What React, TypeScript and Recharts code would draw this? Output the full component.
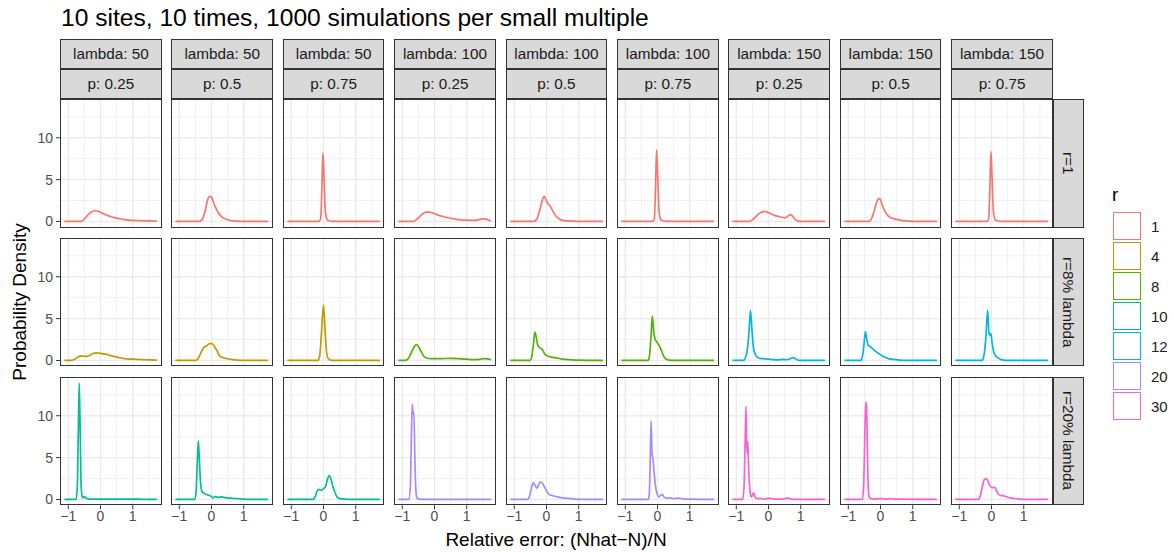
import React from 'react';
import { LineChart, Line, XAxis, YAxis, CartesianGrid } from 'recharts';

// ---------- labels ----------
const titleText = '10 sites, 10 times, 1000 simulations per small multiple';
const lambdaLabels = ['50', '50', '50', '100', '100', '100', '150', '150', '150'];
const pLabels = ['0.25', '0.5', '0.75', '0.25', '0.5', '0.75', '0.25', '0.5', '0.75'];
const rowLabels = ['r=1', 'r=8% lambda', 'r=20% lambda'];
const rLevels = ['1', '4', '8', '10', '12', '20', '30'];
const rColors = ['#F8766D', '#C49A00', '#53B400', '#00C094', '#00B6EB', '#A58AFF', '#FB61D7'];
const panelR = [
  ['1', '1', '1', '1', '1', '1', '1', '1', '1'],
  ['4', '4', '4', '8', '8', '8', '12', '12', '12'],
  ['10', '10', '10', '20', '20', '20', '30', '30', '30'],
];
const xTicks = [-1, 0, 1];
const xMinor = [-0.5, 0.5, 1.5];
const yTicks = [0, 5, 10];
const yMinor = [2.5, 7.5, 12.5];

// ---------- density curves [x, density] ----------
// row r=1
const r1_l50_p25 = [[-1.12,0],[-0.6,0.02],[-0.5,0.3],[-0.4,0.75],[-0.3,1.1],[-0.2,1.28],[-0.1,1.25],[0,1.1],[0.1,0.9],[0.2,0.75],[0.3,0.6],[0.4,0.48],[0.5,0.4],[0.6,0.32],[0.7,0.25],[0.8,0.2],[0.9,0.15],[1.0,0.12],[1.2,0.1],[1.4,0.08],[1.6,0.06],[1.75,0.04]];
const r1_l50_p50 = [[-1.12,0],[-0.4,0],[-0.3,0.2],[-0.2,1.2],[-0.12,2.6],[-0.06,3.0],[0,2.9],[0.05,2.4],[0.1,1.9],[0.15,1.5],[0.2,1.1],[0.3,0.6],[0.4,0.35],[0.5,0.2],[0.6,0.1],[0.8,0.04],[1.0,0.02],[1.4,0],[1.75,0]];
const r1_l50_p75 = [[-1.12,0],[-0.15,0],[-0.09,0.3],[-0.05,4],[-0.02,8.2],[0.01,6],[0.04,2.5],[0.07,0.8],[0.12,0.2],[0.2,0.05],[0.3,0],[1.75,0]];
const r1_l100_p25 = [[-1.12,0],[-0.65,0.02],[-0.55,0.25],[-0.45,0.65],[-0.35,0.95],[-0.25,1.12],[-0.15,1.12],[-0.05,1.0],[0.05,0.85],[0.2,0.65],[0.35,0.5],[0.5,0.38],[0.65,0.28],[0.8,0.2],[1.0,0.15],[1.2,0.14],[1.35,0.2],[1.5,0.32],[1.6,0.28],[1.7,0.12],[1.75,0.05]];
const r1_l100_p50 = [[-1.12,0],[-0.4,0],[-0.3,0.3],[-0.2,1.5],[-0.12,2.7],[-0.07,3.0],[-0.02,2.6],[0.05,2.1],[0.12,1.8],[0.2,1.2],[0.3,0.6],[0.4,0.3],[0.55,0.1],[0.8,0.03],[1.2,0],[1.75,0]];
const r1_l100_p75 = [[-1.12,0],[-0.16,0],[-0.1,0.3],[-0.06,4.2],[-0.03,8.55],[0,6.2],[0.03,2.6],[0.06,0.8],[0.11,0.2],[0.2,0.05],[0.3,0],[1.75,0]];
const r1_l150_p25 = [[-1.12,0],[-0.6,0],[-0.5,0.2],[-0.4,0.55],[-0.3,0.9],[-0.2,1.12],[-0.12,1.2],[0,1.05],[0.1,0.85],[0.2,0.7],[0.3,0.6],[0.4,0.5],[0.5,0.45],[0.58,0.55],[0.66,0.82],[0.72,0.75],[0.8,0.35],[0.88,0.08],[0.95,0.01],[1.75,0]];
const r1_l150_p50 = [[-1.12,0],[-0.35,0],[-0.28,0.3],[-0.2,1.2],[-0.12,2.3],[-0.05,2.72],[0,2.6],[0.05,2.0],[0.1,1.5],[0.17,1.0],[0.25,0.6],[0.35,0.4],[0.5,0.25],[0.7,0.1],[0.9,0.03],[1.2,0],[1.75,0]];
const r1_l150_p75 = [[-1.12,0],[-0.15,0],[-0.09,0.3],[-0.05,4.1],[-0.02,8.36],[0.01,6],[0.04,2.5],[0.07,0.8],[0.12,0.2],[0.2,0.05],[0.3,0],[1.75,0]];
// row r=8% lambda
const r2_l50_p25 = [[-1.12,0],[-0.9,0.02],[-0.8,0.15],[-0.7,0.4],[-0.62,0.55],[-0.52,0.5],[-0.43,0.48],[-0.35,0.6],[-0.25,0.8],[-0.12,0.9],[0,0.85],[0.15,0.75],[0.3,0.6],[0.45,0.45],[0.6,0.32],[0.75,0.22],[0.9,0.17],[1.1,0.14],[1.3,0.1],[1.5,0.06],[1.75,0.03]];
const r2_l50_p50 = [[-1.12,0],[-0.5,0],[-0.42,0.2],[-0.33,0.9],[-0.25,1.5],[-0.15,1.75],[-0.05,2.0],[0.02,2.0],[0.1,1.6],[0.18,1.1],[0.25,0.55],[0.35,0.35],[0.5,0.2],[0.65,0.1],[0.8,0.04],[1.0,0.01],[1.75,0]];
const r2_l50_p75 = [[-1.12,0],[-0.18,0],[-0.12,0.5],[-0.06,3.5],[0,6.6],[0.05,3.5],[0.1,0.8],[0.15,0.2],[0.22,0.05],[0.35,0],[1.75,0]];
const r2_l100_p25 = [[-1.12,0],[-0.9,0.02],[-0.8,0.3],[-0.7,1.1],[-0.62,1.7],[-0.56,1.9],[-0.5,1.7],[-0.42,1.1],[-0.35,0.6],[-0.25,0.3],[-0.1,0.22],[0.2,0.22],[0.5,0.25],[0.8,0.2],[1.0,0.15],[1.2,0.1],[1.4,0.12],[1.55,0.22],[1.65,0.2],[1.75,0.08]];
const r2_l100_p50 = [[-1.12,0],[-0.52,0],[-0.46,0.4],[-0.41,1.8],[-0.36,3.4],[-0.32,2.8],[-0.27,1.8],[-0.2,1.5],[-0.13,1.3],[-0.06,0.8],[0.02,0.55],[0.15,0.4],[0.3,0.3],[0.45,0.2],[0.6,0.12],[0.8,0.07],[1.0,0.04],[1.3,0.02],[1.75,0.01]];
const r2_l100_p75 = [[-1.12,0],[-0.3,0],[-0.25,0.5],[-0.2,3.0],[-0.16,5.3],[-0.12,3.5],[-0.08,2.6],[-0.02,2.2],[0.05,1.8],[0.12,1.2],[0.18,0.6],[0.25,0.2],[0.35,0.05],[0.5,0],[1.75,0]];
const r2_l150_p25 = [[-1.12,0],[-0.78,0],[-0.72,0.3],[-0.65,1.5],[-0.6,3.8],[-0.56,6.0],[-0.52,4.0],[-0.47,1.6],[-0.42,0.8],[-0.35,0.4],[-0.25,0.25],[-0.1,0.2],[0,0.15],[0.15,0.1],[0.3,0.08],[0.45,0.12],[0.55,0.1],[0.65,0.15],[0.75,0.35],[0.82,0.25],[0.9,0.05],[1.0,0.01],[1.75,0]];
const r2_l150_p50 = [[-1.12,0],[-0.62,0],[-0.56,0.5],[-0.51,2.0],[-0.47,3.45],[-0.43,2.6],[-0.38,1.8],[-0.3,1.6],[-0.22,1.3],[-0.12,1.0],[-0.04,0.8],[0.05,0.55],[0.15,0.35],[0.25,0.22],[0.4,0.12],[0.6,0.05],[0.8,0.02],[1.75,0]];
const r2_l150_p75 = [[-1.12,0],[-0.3,0],[-0.24,0.5],[-0.18,2.5],[-0.12,6.0],[-0.08,3.3],[-0.05,3.0],[-0.02,3.2],[0.02,2.0],[0.07,1.0],[0.12,0.6],[0.2,0.3],[0.3,0.1],[0.45,0.02],[1.75,0]];
// row r=20% lambda
const r3_l50_p25 = [[-1.12,0],[-0.76,0],[-0.72,1.5],[-0.69,8],[-0.66,13.9],[-0.63,8],[-0.6,1.5],[-0.56,0.2],[-0.5,0.35],[-0.45,0.15],[-0.3,0.05],[0,0.05],[0.5,0.03],[1.0,0.04],[1.3,0.02],[1.75,0.01]];
const r3_l50_p50 = [[-1.12,0],[-0.52,0],[-0.48,0.8],[-0.44,4.5],[-0.41,7.0],[-0.38,5.0],[-0.34,2.0],[-0.3,1.0],[-0.22,0.7],[-0.12,0.55],[-0.02,0.4],[0.05,0.2],[0.12,0.35],[0.2,0.25],[0.3,0.3],[0.45,0.2],[0.6,0.15],[0.8,0.1],[1.0,0.05],[1.2,0.02],[1.75,0]];
const r3_l50_p75 = [[-1.12,0],[-0.32,0],[-0.26,0.3],[-0.2,1.0],[-0.14,1.2],[-0.08,1.1],[0,1.3],[0.06,1.5],[0.12,2.4],[0.18,2.85],[0.24,2.3],[0.3,1.4],[0.36,0.8],[0.42,0.3],[0.5,0.1],[0.65,0.03],[0.9,0],[1.75,0]];
const r3_l100_p25 = [[-1.12,0],[-0.8,0],[-0.75,1.5],[-0.72,7],[-0.69,11.4],[-0.66,10.2],[-0.64,10.4],[-0.61,5],[-0.58,1.2],[-0.55,0.2],[-0.5,0.05],[0,0.02],[1.75,0]];
const r3_l100_p50 = [[-1.12,0],[-0.58,0],[-0.52,0.5],[-0.46,1.5],[-0.41,2.0],[-0.36,1.7],[-0.3,1.35],[-0.24,1.8],[-0.18,2.1],[-0.12,1.9],[-0.05,1.4],[0.02,0.9],[0.08,0.6],[0.2,0.45],[0.35,0.3],[0.5,0.2],[0.7,0.12],[0.9,0.05],[1.1,0.02],[1.75,0]];
const r3_l100_p75 = [[-1.12,0],[-0.28,0],[-0.25,1.0],[-0.22,6.0],[-0.2,9.4],[-0.17,5.5],[-0.14,4.8],[-0.11,3.5],[-0.07,1.8],[-0.02,0.8],[0.04,0.3],[0.1,0.5],[0.15,0.6],[0.2,0.3],[0.3,0.15],[0.4,0.2],[0.5,0.1],[0.65,0.15],[0.8,0.08],[1.0,0.04],[1.75,0]];
const r3_l150_p25 = [[-1.12,0],[-0.8,0],[-0.76,1.5],[-0.72,8],[-0.7,11.1],[-0.68,7],[-0.66,5.5],[-0.64,6.9],[-0.62,4],[-0.58,1.2],[-0.54,0.3],[-0.5,0.5],[-0.46,0.8],[-0.42,0.3],[-0.35,0.1],[-0.25,0.12],[-0.1,0.05],[0,0.15],[0.2,0.05],[0.4,0.05],[0.6,0.15],[0.7,0.05],[1.0,0.02],[1.75,0]];
const r3_l150_p50 = [[-1.12,0],[-0.56,0],[-0.52,2],[-0.48,9],[-0.46,11.6],[-0.44,11.4],[-0.42,9],[-0.39,2.5],[-0.36,0.4],[-0.3,0.1],[-0.2,0.05],[0,0.1],[0.2,0.05],[0.3,0.1],[0.5,0.03],[1.75,0]];
const r3_l150_p75 = [[-1.12,0],[-0.42,0],[-0.35,0.4],[-0.28,1.6],[-0.22,2.4],[-0.16,2.45],[-0.12,2.3],[-0.07,1.8],[-0.02,1.5],[0.04,1.4],[0.1,1.45],[0.15,1.1],[0.2,0.7],[0.26,0.5],[0.35,0.45],[0.45,0.35],[0.55,0.2],[0.65,0.15],[0.8,0.06],[1.0,0.02],[1.75,0]];

const curves = [
  [r1_l50_p25, r1_l50_p50, r1_l50_p75, r1_l100_p25, r1_l100_p50, r1_l100_p75, r1_l150_p25, r1_l150_p50, r1_l150_p75],
  [r2_l50_p25, r2_l50_p50, r2_l50_p75, r2_l100_p25, r2_l100_p50, r2_l100_p75, r2_l150_p25, r2_l150_p50, r2_l150_p75],
  [r3_l50_p25, r3_l50_p50, r3_l50_p75, r3_l100_p25, r3_l100_p50, r3_l100_p75, r3_l150_p25, r3_l150_p50, r3_l150_p75],
];

// ---------- layout ----------
const X_DOMAIN: [number, number] = [-1.257, 1.898];
const Y_DOMAIN: [number, number] = [-0.6965, 14.6265];
const COL_LEFT0 = 60;
const COL_STEP = 111.4;
const PW = 101.7;
const ROW_TOP0 = 99.3;
const ROW_STEP = 138.7;
const PH = 128.3;
const YW = 40;
const XH = 30;
const PAD = 10;
const FONT = '"Liberation Sans", Arial, Helvetica, sans-serif';
const STRIP_BG = '#D9D9D9';
const BORDER = '#333333';

const fmtX = (v: number) => (v < 0 ? '\u2212' + Math.abs(v) : String(v));

function Panel({ row, col }: { row: number; col: number }) {
  const showX = row === 2;
  const showY = col === 0;
  const left = COL_LEFT0 + col * COL_STEP;
  const top = ROW_TOP0 + row * ROW_STEP;
  const data = curves[row][col].map(([x, y]) => ({ x, y }));
  const color = rColors[rLevels.indexOf(panelR[row][col])];
  return (
    <>
      <div style={{ position: 'absolute', left: left - (showY ? YW : 0) - PAD, top: top - PAD }}>
        <LineChart
          width={PW + (showY ? YW : 0) + 2 * PAD}
          height={PH + (showX ? XH : 0) + 2 * PAD}
          data={data}
          margin={{ top: PAD, right: PAD, bottom: PAD, left: PAD }}
        >
          <XAxis
            type="number"
            dataKey="x"
            domain={X_DOMAIN}
            ticks={xTicks}
            interval={0}
            allowDataOverflow
            hide={!showX}
            height={XH}
            axisLine={false}
            tickSize={4}
            tickMargin={2}
            tickLine={{ stroke: BORDER, strokeWidth: 1 }}
            tick={{ fill: '#4D4D4D', fontSize: 14, fontFamily: FONT }}
            tickFormatter={fmtX}
          />
          <YAxis
            type="number"
            domain={Y_DOMAIN}
            ticks={yTicks}
            interval={0}
            allowDataOverflow
            hide={!showY}
            width={YW}
            axisLine={false}
            tickSize={4}
            tickMargin={3}
            tickLine={{ stroke: BORDER, strokeWidth: 1 }}
            tick={{ fill: '#4D4D4D', fontSize: 14, fontFamily: FONT }}
          />
          <CartesianGrid
            stroke="#EBEBEB"
            strokeWidth={0.7}
            horizontalValues={yMinor}
            verticalValues={xMinor}
          />
          <CartesianGrid
            stroke="#EBEBEB"
            strokeWidth={1.4}
            horizontalValues={yTicks}
            verticalValues={xTicks}
          />
          <Line
            type="monotoneX"
            dataKey="y"
            stroke={color}
            strokeWidth={1.7}
            dot={false}
            activeDot={false}
            isAnimationActive={false}
          />
        </LineChart>
      </div>
      <div
        style={{
          position: 'absolute',
          left,
          top,
          width: PW,
          height: PH,
          border: `1px solid ${BORDER}`,
          boxSizing: 'border-box',
          pointerEvents: 'none',
        }}
      />
    </>
  );
}

function TopStrip({ col, row, text }: { col: number; row: number; text: string }) {
  return (
    <div
      style={{
        position: 'absolute',
        left: COL_LEFT0 + col * COL_STEP,
        top: 39.3 + row * 30,
        width: PW,
        height: 30,
        background: STRIP_BG,
        border: `1px solid ${BORDER}`,
        boxSizing: 'border-box',
        display: 'flex',
        alignItems: 'center',
        justifyContent: 'center',
        fontSize: 15.3,
        color: '#1A1A1A',
        whiteSpace: 'nowrap',
      }}
    >
      {text}
    </div>
  );
}

function RightStrip({ row, text }: { row: number; text: string }) {
  return (
    <div
      style={{
        position: 'absolute',
        left: 1053,
        top: ROW_TOP0 + row * ROW_STEP,
        width: 30.5,
        height: PH,
        background: STRIP_BG,
        border: `1px solid ${BORDER}`,
        boxSizing: 'border-box',
        display: 'flex',
        alignItems: 'center',
        justifyContent: 'center',
        fontSize: 15.3,
        color: '#1A1A1A',
      }}
    >
      <span style={{ writingMode: 'vertical-rl', whiteSpace: 'nowrap' }}>{text}</span>
    </div>
  );
}

export default function App() {
  const cols = lambdaLabels.map((_, i) => i);
  const rows = rowLabels.map((_, i) => i);
  return (
    <div
      style={{
        position: 'absolute',
        left: 0,
        top: 0,
        width: 1173,
        height: 552,
        background: '#FFFFFF',
        fontFamily: FONT,
        overflow: 'hidden',
      }}
    >
      <div style={{ position: 'absolute', left: 61, top: 4, fontSize: 24.6, color: '#000', whiteSpace: 'nowrap' }}>
        {titleText}
      </div>
      {cols.map((c) => (
        <TopStrip key={'l' + c} col={c} row={0} text={'lambda: ' + lambdaLabels[c]} />
      ))}
      {cols.map((c) => (
        <TopStrip key={'p' + c} col={c} row={1} text={'p: ' + pLabels[c]} />
      ))}
      {rows.map((r) => (
        <RightStrip key={'r' + r} row={r} text={rowLabels[r]} />
      ))}
      {rows.map((r) => cols.map((c) => <Panel key={r + '-' + c} row={r} col={c} />))}
      <div
        style={{
          position: 'absolute',
          left: 20,
          top: 302,
          transform: 'translate(-50%, -50%) rotate(-90deg)',
          fontSize: 19,
          color: '#000',
          whiteSpace: 'nowrap',
        }}
      >
        Probability Density
      </div>
      <div
        style={{
          position: 'absolute',
          left: 556,
          top: 540,
          transform: 'translate(-50%, -50%)',
          fontSize: 19,
          color: '#000',
          whiteSpace: 'nowrap',
        }}
      >
        Relative error: (Nhat−N)/N
      </div>
      <div style={{ position: 'absolute', left: 1112, top: 184, fontSize: 19, color: '#000' }}>r</div>
      {rLevels.map((lv, i) => (
        <React.Fragment key={lv}>
          <div
            style={{
              position: 'absolute',
              left: 1112.5,
              top: 212 + i * 30,
              width: 28,
              height: 28,
              border: `1.6px solid ${rColors[i]}`,
              boxSizing: 'border-box',
              background: '#fff',
            }}
          />
          <div
            style={{
              position: 'absolute',
              left: 1151,
              top: 226 + i * 30,
              transform: 'translateY(-50%)',
              fontSize: 15,
              color: '#1A1A1A',
            }}
          >
            {lv}
          </div>
        </React.Fragment>
      ))}
    </div>
  );
}
